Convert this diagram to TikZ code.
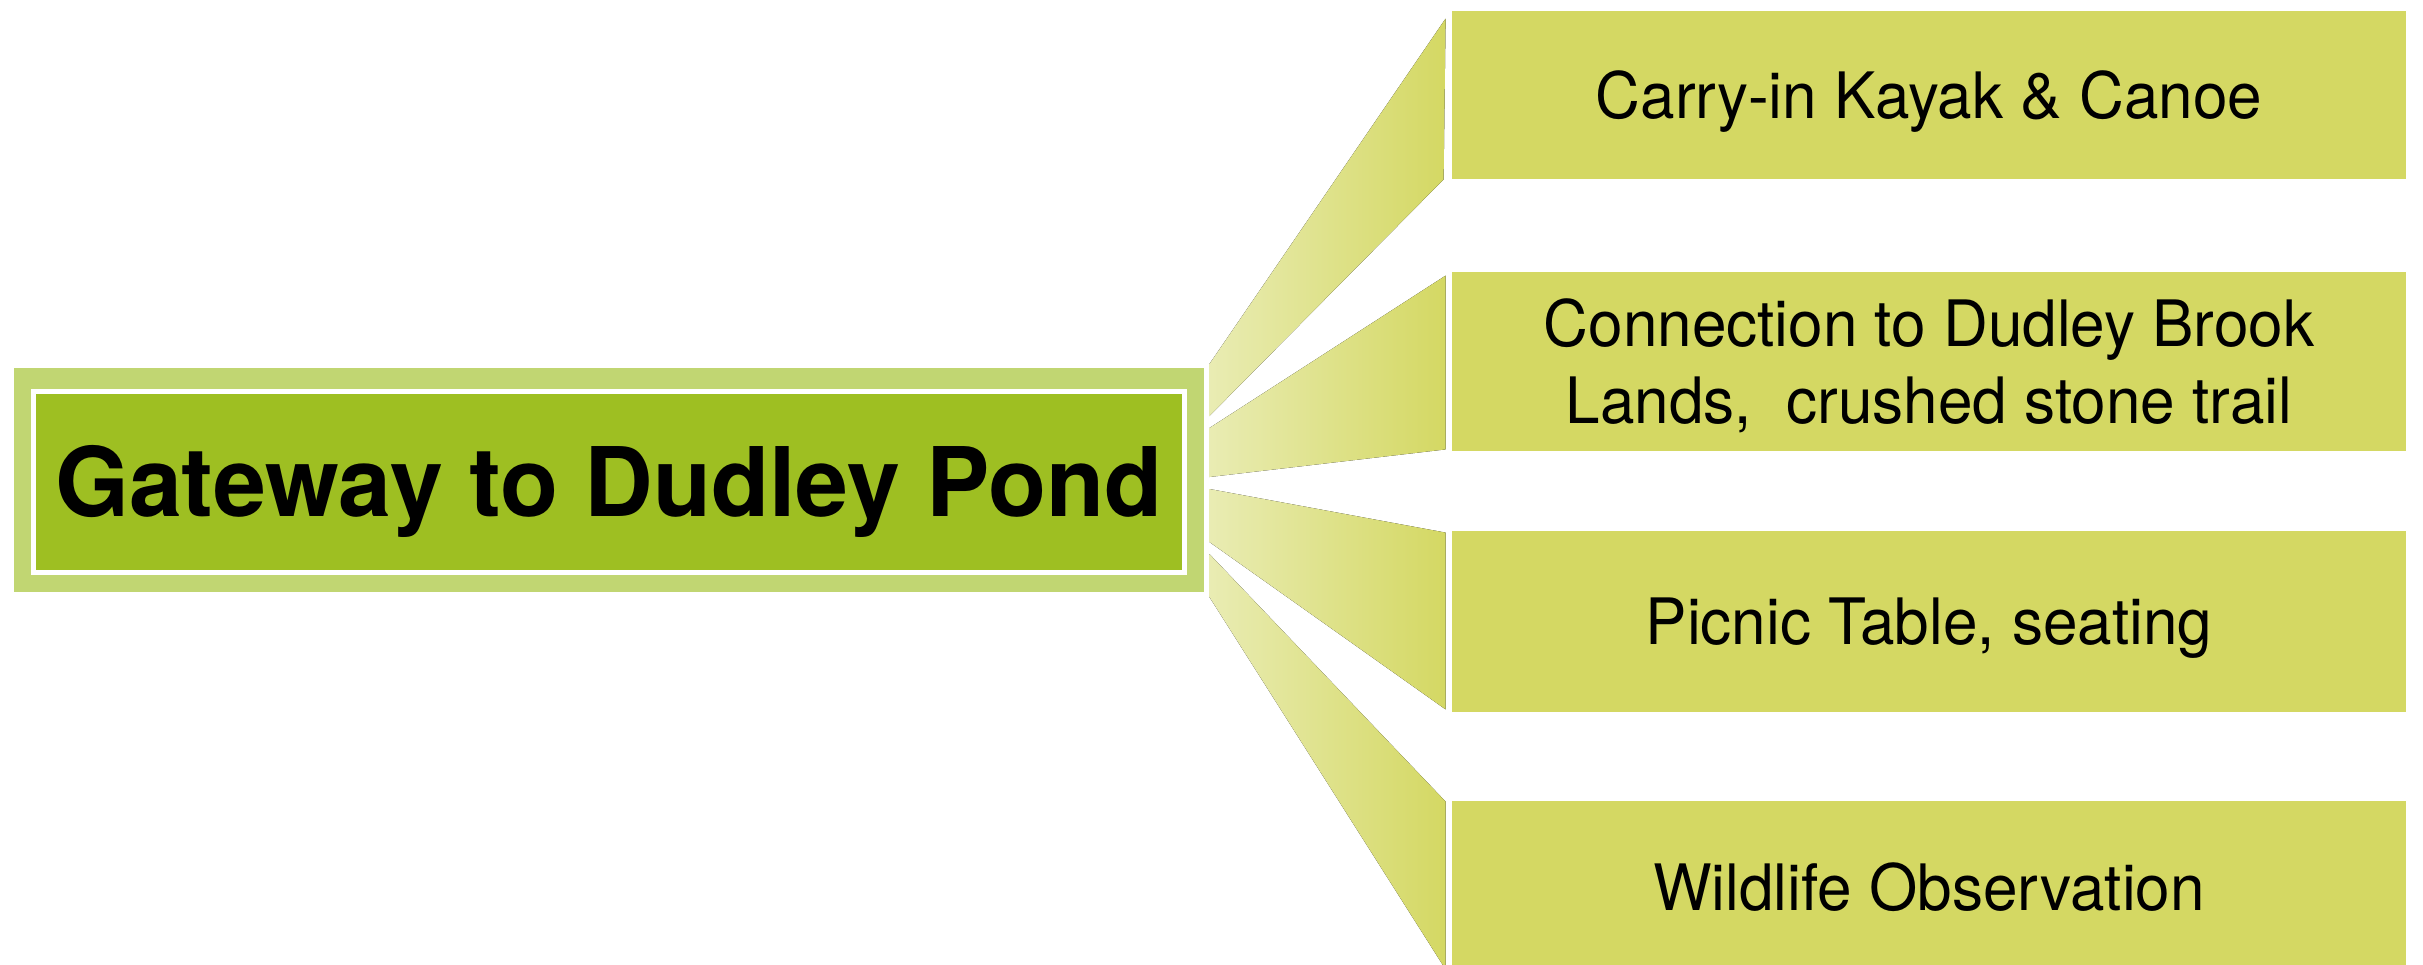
\documentclass[tikz,border=0pt]{standalone}
\usepackage{fontspec}
\setmainfont{TeX Gyre Heros}
\newfontfamily\titlefont{TeX Gyre Heros}[FakeStretch=0.99]
\newfontfamily\itemfont{TeX Gyre Heros}[FakeStretch=0.97]
\usetikzlibrary{calc}
\definecolor{frameGreen}{HTML}{C1D672}
\definecolor{hubGreen}{HTML}{9EBF22}
\definecolor{leafGreen}{HTML}{D4D863}
\definecolor{rayLight}{HTML}{E9ECB3}
\begin{document}
\begin{tikzpicture}[x=0.5pt,y=-0.5pt,
  hubframe/.style={fill=frameGreen, minimum width=595pt, minimum height=112pt, inner sep=0pt},
  hubbox/.style={fill=hubGreen, draw=white, line width=2.5pt, minimum width=575.5pt,
    minimum height=90.25pt, inner sep=0pt, text height=34.5pt, text depth=0pt,
    font=\titlefont\bfseries\fontsize{48}{50}\selectfont},
  leaf/.style={fill=leafGreen, minimum width=477pt, inner sep=0pt, align=center,
    text height=23pt, text depth=0pt,
    font=\itemfont\fontsize{32}{38.5}\selectfont},
  ray/.style={left color=rayLight, right color=leafGreen}]
\useasboundingbox (0,0) rectangle (2423,964);

% central hub
\node[hubframe] (hubout) at (609,480) {};
\node[hubbox] (hub) at (609,482) {Gateway to Dudley Pond};

% destination boxes
\node[leaf, minimum height=84pt]   (b1) at (1929,95)    {Carry-in Kayak \& Canoe};
\node[leaf, minimum height=89.5pt, text height=61.5pt] (b2) at (1929,361.5)
  {Connection to Dudley Brook\\Lands,\ \ crushed stone trail};
\node[leaf, minimum height=90.5pt] (b3) at (1929,621.5) {Picnic Table, seating};
\node[leaf, minimum height=86pt]   (b4) at (1929,887)   {Wildlife Observation};

% fanned connectors from the hub to each box
\fill[ray] ($(hubout.east)+(5,-116)$) -- ($(b1.north west)+(-6,8)$)
  -- ($(b1.south west)+(-8,0)$) -- ($(hubout.east)+(5,-64)$) -- cycle;
\fill[ray] ($(hubout.east)+(5,-52)$) -- ($(b2.north west)+(-6,4)$)
  -- ($(b2.south west)+(-6,-2)$) -- ($(hubout.east)+(5,-3)$) -- cycle;
\fill[ray] ($(hubout.east)+(5,9)$) -- ($(b3.north west)+(-6,2)$)
  -- ($(b3.south west)+(-6,-3)$) -- ($(hubout.east)+(5,62)$) -- cycle;
\fill[ray] ($(hubout.east)+(5,74)$) -- ($(b4.north west)+(-6,1)$)
  -- ($(b4.south west)+(-6,-4)$) -- ($(hubout.east)+(5,117)$) -- cycle;
\end{tikzpicture}
\end{document}
